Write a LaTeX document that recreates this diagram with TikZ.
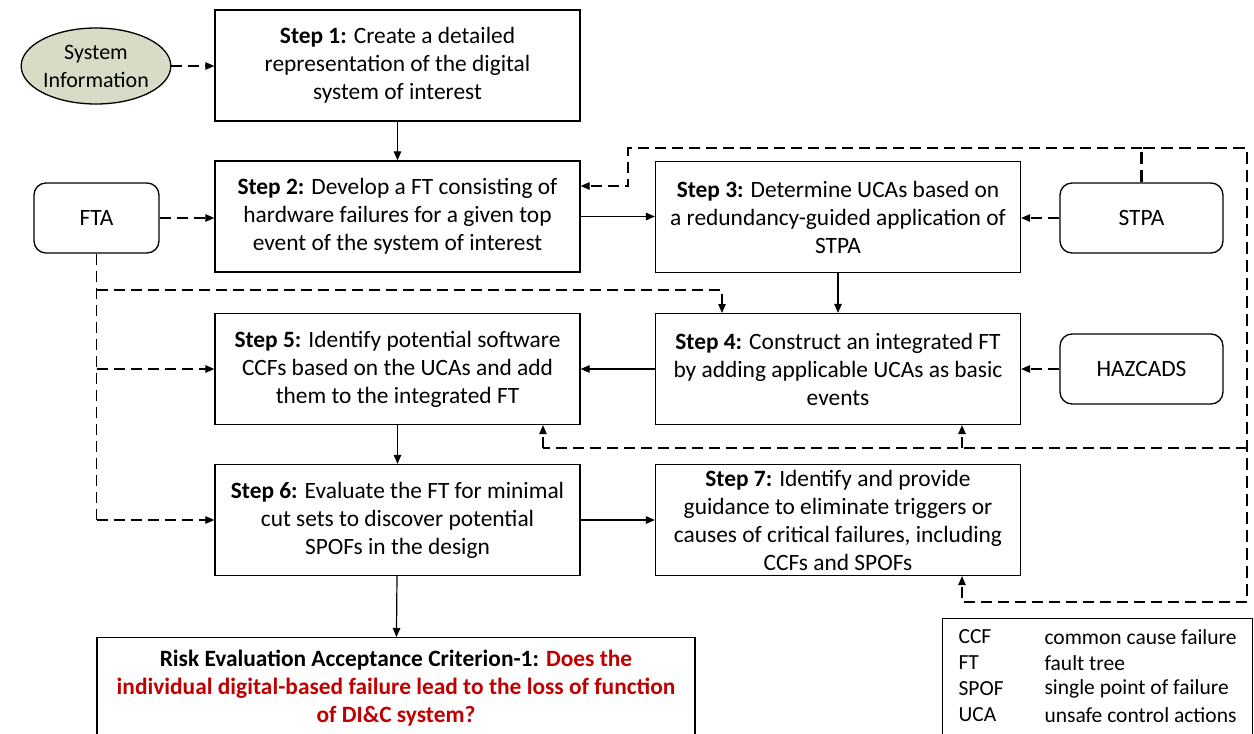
\documentclass[tikz,border=0pt]{standalone}
\usepackage{fontspec}
\setmainfont{Carlito}
\usetikzlibrary{arrows.meta,shapes.geometric}
\definecolor{ellfill}{RGB}{214,220,198}
\definecolor{critred}{RGB}{192,0,0}
\begin{document}
\begin{tikzpicture}[x=1pt,y=-1pt,
  every node/.style={font=\fontsize{23.4}{28}\selectfont},
  stepbox/.style={draw, line width=1.3pt, minimum width=365pt, minimum height=111pt, align=center, inner sep=0pt},
  srcbox/.style={draw, line width=1.3pt, rounded corners=12pt, minimum height=70pt, inner sep=0pt},
  legtext/.style={anchor=west, font=\fontsize{21.5}{26}\selectfont},
  solidarrow/.style={line width=1.2pt, -{Triangle[length=9pt,width=7.5pt]}},
  dasharrow/.style={line width=1.2pt, dash pattern=on 11pt off 6pt, -{Triangle[length=9pt,width=7.5pt]}},
  dashline/.style={line width=1.2pt, dash pattern=on 11pt off 6pt},
  thickdash/.style={line width=2.2pt, dash pattern=on 12pt off 6pt}]
\useasboundingbox (0,0) rectangle (1254,734);
\clip (0,0) rectangle (1254,734);

% nodes
\node[ellipse, draw, line width=1.3pt, fill=ellfill, minimum width=112pt, minimum height=76pt, inner sep=0pt, align=center, font=\fontsize{22}{28}\selectfont] (sysinfo) at (96,66) {System\\Information};
\node[stepbox] (step1) at (397.5,65.5) {\textbf{Step 1:} Create a detailed\\representation of the digital\\system of interest};
\node[stepbox] (step2) at (397.5,216.5) {\textbf{Step 2:} Develop a FT consisting of\\hardware failures for a given top\\event of the system of interest};
\node[stepbox] (step3) at (838,217) {\textbf{Step 3:} Determine UCAs based on\\a redundancy-guided application of\\STPA};
\node[stepbox] (step4) at (838,369) {\textbf{Step 4:} Construct an integrated FT\\by adding applicable UCAs as basic\\events};
\node[stepbox] (step5) at (397.5,369) {\textbf{Step 5:} Identify potential software\\CCFs based on the UCAs and add\\them to the integrated FT};
\node[stepbox] (step6) at (397.5,520) {\textbf{Step 6:} Evaluate the FT for minimal\\cut sets to discover potential\\SPOFs in the design};
\node[stepbox] (step7) at (838,520) {\textbf{Step 7:} Identify and provide\\guidance to eliminate triggers or\\causes of critical failures, including\\CCFs and SPOFs};
\node[srcbox, minimum width=125pt] (fta) at (96.5,218) {FTA};
\node[srcbox, minimum width=163pt] (stpa) at (1141.5,218) {STPA};
\node[srcbox, minimum width=163pt] (hazcads) at (1141.5,369) {HAZCADS};
\node[draw, line width=1.3pt, anchor=north, minimum width=598pt, inner ysep=12pt, align=center] (risk) at (396,637) {\textbf{Risk Evaluation Acceptance Criterion-1: \color{critred}Does the}\\\textbf{\color{critred}individual digital-based failure lead to the loss of function}\\\textbf{\color{critred}of DI\&C system?}};

% legend
\node[draw, line width=1.3pt, anchor=north west, minimum width=310pt, minimum height=130pt] (legend) at (942,618) {};
\node[legtext] (l1a) at (955,637) {CCF};
\node[legtext] (l1b) at (1041,637) {common cause failure};
\node[legtext] (l2a) at (955,663) {FT};
\node[legtext] (l2b) at (1041,663) {fault tree};
\node[legtext] (l3a) at (955,689) {SPOF};
\node[legtext] (l3b) at (1041,689) {single point of failure};
\node[legtext] (l4a) at (955,715) {UCA};
\node[legtext] (l4b) at (1041,715) {unsafe control actions};

% solid flow
\draw[solidarrow] (step1) -- (step2);
\draw[solidarrow] (step2.east) -- (step2.east -| step3.west);
\draw[solidarrow] (step3) -- (step4);
\draw[solidarrow] (step4.west) -- (step4.west -| step5.east);
\draw[solidarrow] (step5) -- (step6);
\draw[solidarrow] (step6.east) -- (step6.east -| step7.west);
\draw[solidarrow] (step6) -- (risk);

% dashed inputs
\draw[dasharrow] (sysinfo.east) -- (sysinfo.east -| step1.west);
\draw[dasharrow] (fta.east) -- (fta.east -| step2.west);
\draw[dasharrow] (stpa.west) -- (stpa.west -| step3.east);
\draw[dasharrow] (hazcads.west) -- (hazcads.west -| step4.east);

% FTA distribution
\coordinate (ftaturn) at (96.5,290);
\coordinate (ftab5) at (96.5,369);
\coordinate (ftab6) at (96.5,520);
\coordinate (s4top) at (722,313);
\draw[dashline] (fta.south) -- (ftab6);
\draw[dasharrow] (ftab6) -- (ftab6 -| step6.west);
\draw[dasharrow] (ftab5) -- (ftab5 -| step5.west);
\draw[dasharrow] (ftaturn) -| (s4top);

% STPA distribution
\coordinate (stpatop) at (1141.5,148);
\coordinate (leftturn) at (628,148);
\coordinate (s2in) at (628,186);
\coordinate (rtop) at (1247,148);
\coordinate (rmid) at (1247,448);
\coordinate (rbot) at (1247,602);
\coordinate (m5) at (543,448);
\coordinate (m4) at (962,448);
\coordinate (b7) at (962,602);
\draw[thickdash] (stpa.north) -- (stpatop) -- (rtop) -- (rbot);
\draw[dasharrow] (stpatop) -- (leftturn) -- (s2in) -- (s2in -| step2.east);
\draw[dashline] (rmid) -- (m5);
\draw[dasharrow] (m5) -- (m5 |- step5.south);
\draw[dasharrow] (m4) -- (m4 |- step4.south);
\draw[dasharrow] (rbot) -- (b7) -- (b7 |- step7.south);
\end{tikzpicture}
\end{document}
